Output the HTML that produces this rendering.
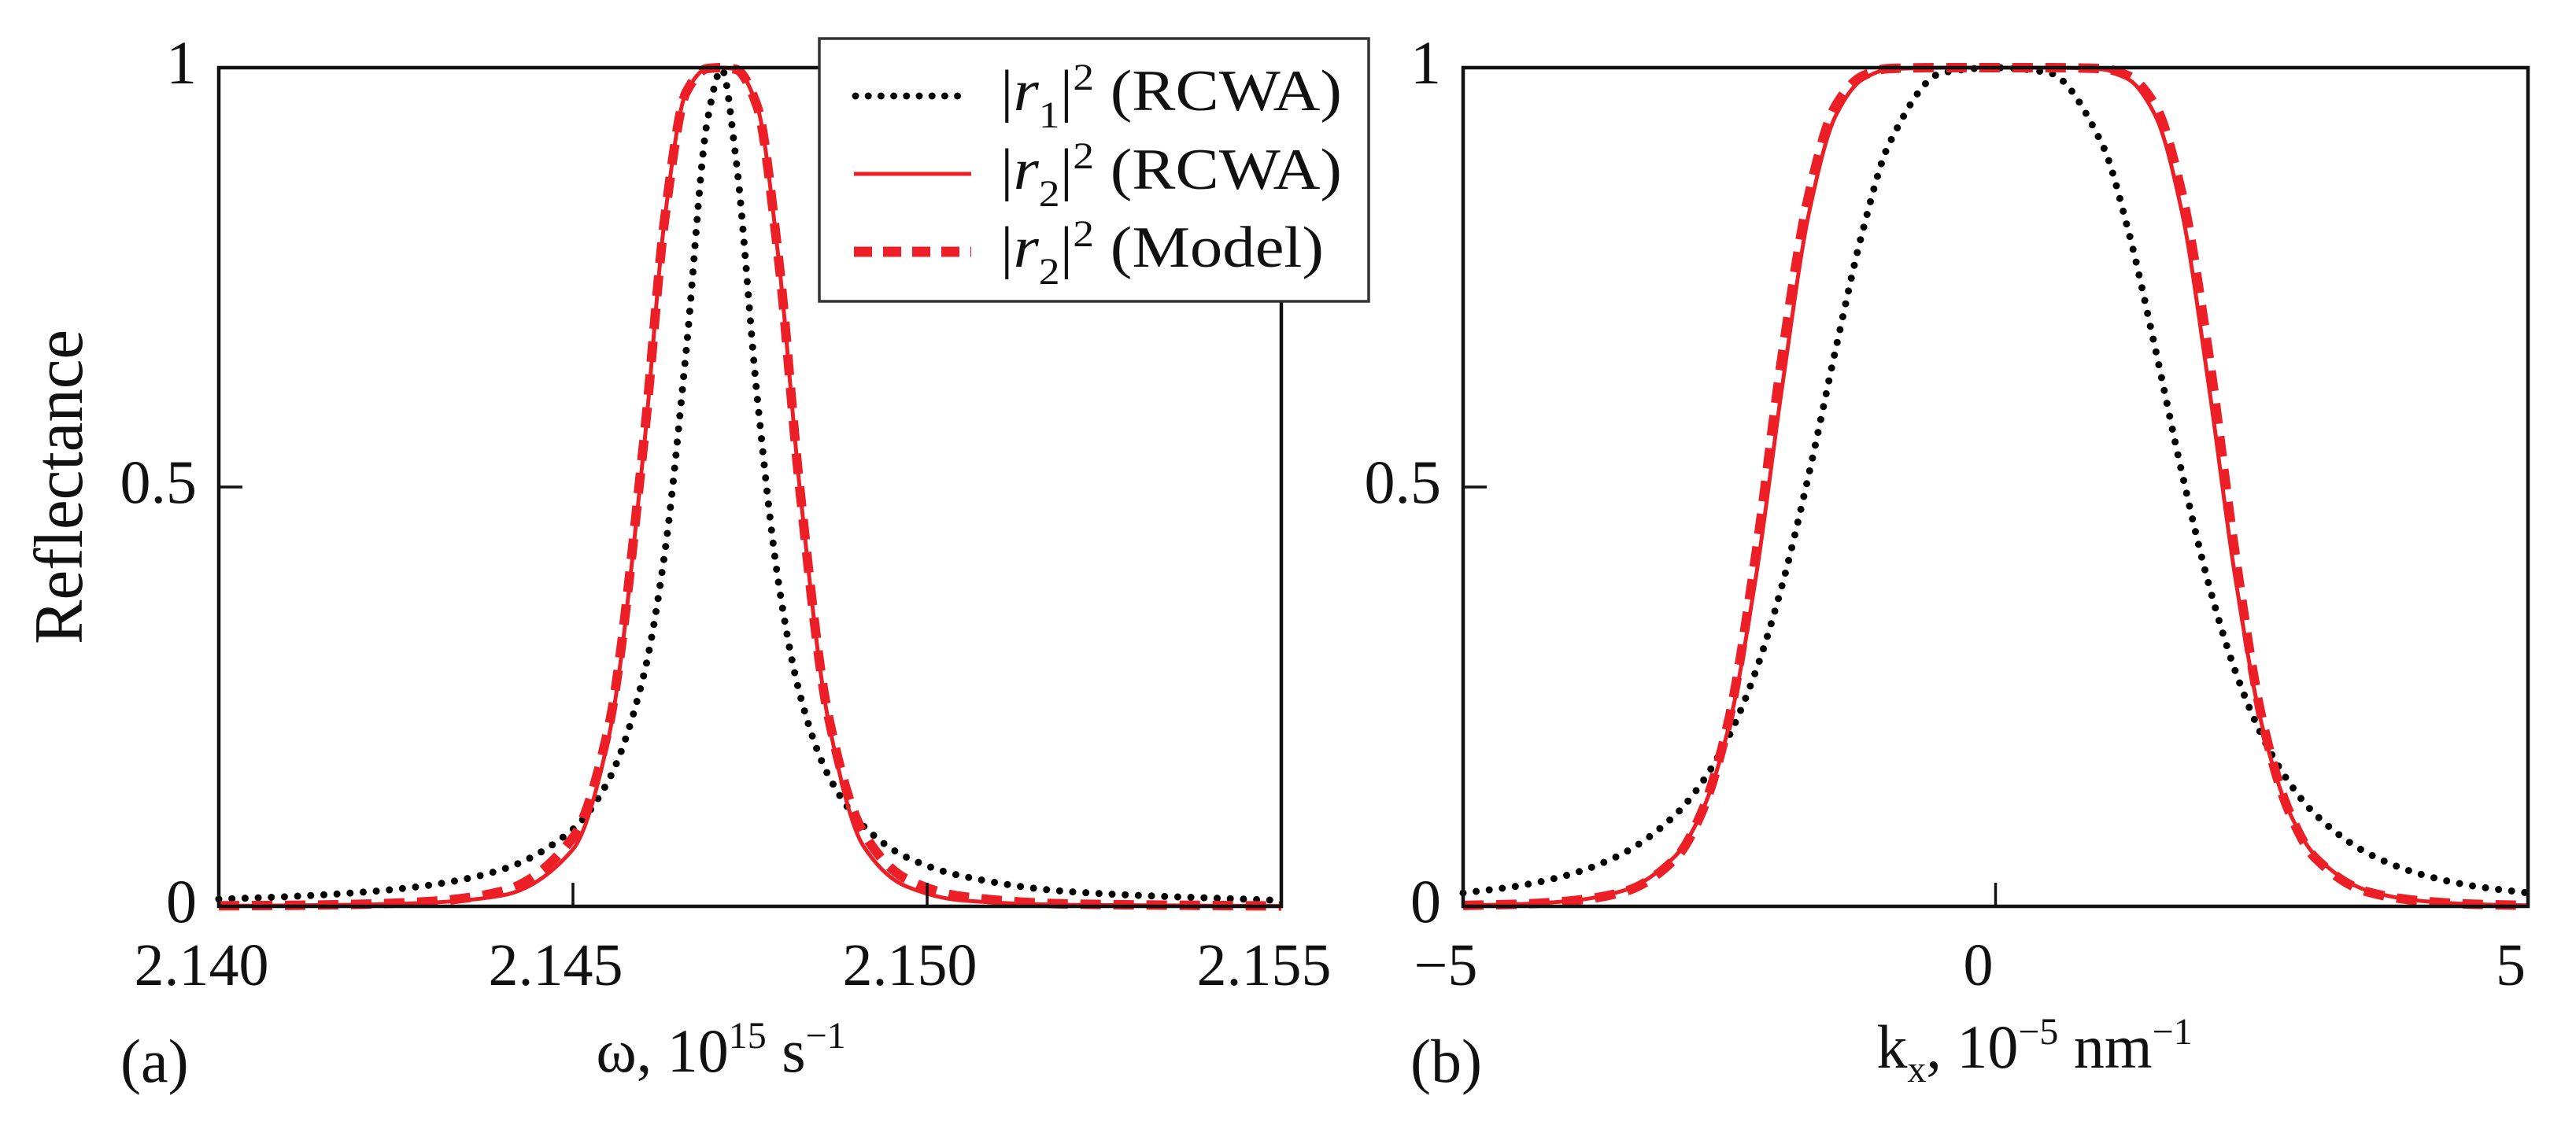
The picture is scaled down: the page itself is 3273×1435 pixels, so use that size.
<!DOCTYPE html>
<html><head><meta charset="utf-8"><style>
html,body{margin:0;padding:0;background:#fff;}
svg{display:block;font-family:"Liberation Serif",serif;}
</style></head><body>
<svg id="chart" width="3273" height="1435" viewBox="0 0 3273 1435" xmlns="http://www.w3.org/2000/svg">
<g id="panelA"></g>
<g id="panelB"></g>
<g id="legend"></g>
</svg>
<script>
// ---- Panel (a) data: omega (10^15 s^-1) ----
const aX = [2.140,2.141,2.142,2.143,2.144,2.1450,2.1455,2.1460,2.1463,2.1466,2.1469,2.1471,2.1473,2.1476,2.1479,2.1482,2.1486,2.1491,2.1497,2.1505,2.152,2.155];
const aR1 = [0.0086,0.0117,0.0167,0.0256,0.044,0.092,0.150,0.276,0.424,0.664,0.938,0.998,0.892,0.608,0.387,0.254,0.157,0.096,0.059,0.036,0.0176,0.0069];
const aR2 = [0.0005,0.001,0.002,0.0045,0.013,0.068,0.200,0.545,0.823,0.971,0.999,1.0,0.998,0.954,0.774,0.500,0.224,0.072,0.024,0.007,0.0018,0.0003];
const aModel = [0.0007,0.0012,0.0025,0.0059,0.018,0.082,0.212,0.554,0.823,0.971,0.999,1.0,0.998,0.954,0.774,0.500,0.229,0.088,0.033,0.0116,0.0028,0.0004];
const aXTicks = [2.140,2.145,2.150,2.155];
const aXTickLabels = ["2.140","2.145","2.150","2.155"];
// ---- Panel (b) data: kx (10^-5 nm^-1) ----
const bX = [-5,-4.5,-4,-3.5,-3,-2.75,-2.5,-2.25,-2,-1.75,-1.5,-1.25,-1,-0.5,0,0.5,1,1.25,1.5,1.75,2,2.25,2.5,2.75,3,3.5,4,4.5,5];
const bR1 = [0.016,0.024,0.038,0.063,0.110,0.149,0.204,0.281,0.385,0.517,0.665,0.804,0.909,0.994,1.0,0.994,0.909,0.804,0.665,0.517,0.385,0.281,0.204,0.149,0.110,0.063,0.038,0.024,0.016];
const bR2 = [0.0011,0.0025,0.0064,0.0185,0.061,0.115,0.217,0.393,0.623,0.828,0.943,0.986,0.998,1.0,1.0,1.0,0.998,0.986,0.943,0.828,0.623,0.393,0.217,0.115,0.061,0.0185,0.0064,0.0025,0.0011];
const bModel = [0.0011,0.0025,0.0064,0.017,0.058,0.115,0.225,0.420,0.660,0.850,0.955,0.990,0.999,1.0,1.0,1.0,0.999,0.990,0.955,0.850,0.660,0.420,0.225,0.115,0.058,0.017,0.0064,0.0025,0.0011];
const bXTicks = [-5,0,5];
const bXTickLabels = ["\u22125","0","5"];
const yTicks = [0,0.5,1];
const yTickLabels = ["0","0.5","1"];

const NS = "http://www.w3.org/2000/svg";
const RED = "#ec1f26";
function mk(tag, attrs, parent){const e=document.createElementNS(NS,tag);for(const k in attrs)e.setAttribute(k,attrs[k]);parent.appendChild(e);return e;}

function monoPath(px, py){
  const n=px.length, d=[], m=[];
  for(let i=0;i<n-1;i++) d.push((py[i+1]-py[i])/(px[i+1]-px[i]));
  m[0]=d[0]; m[n-1]=d[n-2];
  for(let i=1;i<n-1;i++){ if(d[i-1]*d[i]<=0) m[i]=0; else { const w1=2*(px[i+1]-px[i])+(px[i]-px[i-1]); const w2=(px[i+1]-px[i])+2*(px[i]-px[i-1]); m[i]=(w1+w2)/(w1/d[i-1]+w2/d[i]); } }
  let s="M"+px[0].toFixed(2)+","+py[0].toFixed(2);
  for(let i=0;i<n-1;i++){ const h=px[i+1]-px[i];
    s+="C"+(px[i]+h/3).toFixed(2)+","+(py[i]+m[i]*h/3).toFixed(2)+" "+(px[i+1]-h/3).toFixed(2)+","+(py[i+1]-m[i+1]*h/3).toFixed(2)+" "+px[i+1].toFixed(2)+","+py[i+1].toFixed(2);}
  return s;
}

function drawPanel(g, o){
  const sx=v=>o.x0+(v-o.xmin)/(o.xmax-o.xmin)*(o.x1-o.x0);
  const sy=v=>o.y0-(v)*(o.y0-o.y1);
  const cid=o.id+"clip";
  const defs=mk("defs",{},g);
  const cp=mk("clipPath",{id:cid},defs);
  mk("rect",{x:o.x0-8,y:o.y1-10,width:o.x1-o.x0+16,height:o.y0-o.y1+18},cp);
  const series=[
    {xs:o.xs,ys:o.r1,name:"r1-rcwa-curve",st:{stroke:"#000","stroke-width":9,"stroke-dasharray":"0 16.7","stroke-linecap":"round",fill:"none"}},
    {xs:o.xs,ys:o.r2,name:"r2-rcwa-curve",st:{stroke:RED,"stroke-width":5,fill:"none"}},
    {xs:o.xs,ys:o.md,name:"r2-model-curve",st:{stroke:RED,"stroke-width":12,"stroke-dasharray":"26 16",fill:"none"}}
  ];
  const cg=mk("g",{"clip-path":"url(#"+cid+")"},g);
  
  
  series.forEach(s=>{
    const p=mk("path",Object.assign({d:monoPath(s.xs.map(sx),s.ys.map(sy))},s.st),cg);
    
    
  });
  const fr=mk("rect",{x:o.x0,y:o.y1,width:o.x1-o.x0,height:o.y0-o.y1,fill:"none",stroke:"#111","stroke-width":4.5},g);
  
  
  o.xt.forEach((v,i)=>{
    const x=sx(v);
    if(i>0&&i<o.xt.length-1){
      const t=mk("line",{x1:x,x2:x,y1:o.y0,y2:o.y0-30,stroke:"#111","stroke-width":3.5},g);
      
      
    }
    const tx=mk("text",{x:x-22,y:1252,"font-size":76,"text-anchor":"middle",fill:"#111"},g);
    tx.textContent=o.xl[i];
    
    
  });
  yTicks.forEach((v,i)=>{
    const y=sy(v);
    if(v>0&&v<1){
      const t=mk("line",{x1:o.x0,x2:o.x0+30,y1:y,y2:y,stroke:"#111","stroke-width":3.5},g);
      
      
    }
    const ty=mk("text",{x:o.x0-28,y:y+20,"font-size":78,"text-anchor":"end",fill:"#111"},g);
    ty.textContent=yTickLabels[i];
    
    
  });
}

const gA=document.getElementById("panelA"), gB=document.getElementById("panelB");
drawPanel(gA,{id:"panel-a",x0:278,x1:1628,y0:1152,y1:86,xmin:2.140,xmax:2.155,xs:aX,r1:aR1,r2:aR2,md:aModel,xt:aXTicks,xl:aXTickLabels});
drawPanel(gB,{id:"panel-b",x0:1859,x1:3212,y0:1152,y1:86,xmin:-5,xmax:5,xs:bX,r1:bR1,r2:bR2,md:bModel,xt:bXTicks,xl:bXTickLabels});
</script>
<svg style="position:absolute;left:0;top:0" width="3273" height="1435" viewBox="0 0 3273 1435" xmlns="http://www.w3.org/2000/svg" font-family="Liberation Serif, serif">
  <text transform="translate(104,619) rotate(-90)" font-size="88" text-anchor="middle" fill="#111" textLength="400" lengthAdjust="spacingAndGlyphs">Reflectance</text>
  <text x="916" y="1362" font-size="78" text-anchor="middle" fill="#111">ω, 10<tspan font-size="48" dy="-30">15</tspan><tspan dy="30"> s</tspan><tspan font-size="48" dy="-30">−1</tspan></text>
  <text x="153" y="1375" font-size="78" fill="#111">(a)</text>
  <text x="2585" y="1357" font-size="78" text-anchor="middle" fill="#111">k<tspan font-size="48" dy="18">x</tspan><tspan dy="-18">, 10</tspan><tspan font-size="48" dy="-30">−5</tspan><tspan dy="30"> nm</tspan><tspan font-size="48" dy="-30">−1</tspan></text>
  <text x="1792" y="1375" font-size="78" fill="#111">(b)</text>
  <g>
    <rect x="1041" y="49" width="698" height="334" fill="#fff" stroke="#333" stroke-width="3.5"/>
    <g>
      <line x1="1087" y1="122" x2="1232" y2="122" stroke="#000" stroke-width="9" stroke-dasharray="0 16.2" stroke-linecap="round"/>
      <text x="1271" y="140" font-size="74" fill="#111" textLength="434" lengthAdjust="spacingAndGlyphs">|<tspan font-style="italic">r</tspan><tspan font-size="48" dy="22">1</tspan><tspan dy="-22">|</tspan><tspan font-size="48" dy="-26">2</tspan><tspan dy="26"> (RCWA)</tspan></text>
    </g>
    <g>
      <line x1="1085" y1="221" x2="1234" y2="221" stroke="#ec1f26" stroke-width="5"/>
      <text x="1271" y="240" font-size="74" fill="#111" textLength="434" lengthAdjust="spacingAndGlyphs">|<tspan font-style="italic">r</tspan><tspan font-size="48" dy="22">2</tspan><tspan dy="-22">|</tspan><tspan font-size="48" dy="-26">2</tspan><tspan dy="26"> (RCWA)</tspan></text>
    </g>
    <g>
      <line x1="1085" y1="320" x2="1234" y2="320" stroke="#ec1f26" stroke-width="13" stroke-dasharray="23 14"/>
      <text x="1271" y="339" font-size="74" fill="#111" textLength="411" lengthAdjust="spacingAndGlyphs">|<tspan font-style="italic">r</tspan><tspan font-size="48" dy="22">2</tspan><tspan dy="-22">|</tspan><tspan font-size="48" dy="-26">2</tspan><tspan dy="26"> (Model)</tspan></text>
    </g>
  </g>
</svg>
</body></html>
